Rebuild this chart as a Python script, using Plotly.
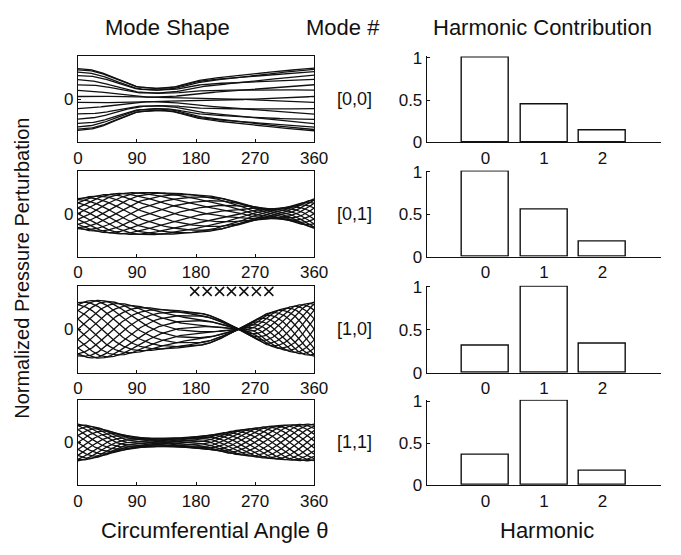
import numpy as np
import plotly.graph_objects as go

# ---------------- data ----------------
mode_labels = ["[0,0]", "[0,1]", "[1,0]", "[1,1]"]
harmonics = [0, 1, 2]
contrib_00 = [1.0, 0.45, 0.14]
contrib_01 = [1.0, 0.55, 0.18]
contrib_10 = [0.32, 1.0, 0.34]
contrib_11 = [0.36, 1.0, 0.17]

angle_ticks = [0, 90, 180, 270, 360]
harm_ticks = [0, 1, 2]
contrib_ticks = [0, 0.5, 1]
contrib_ticktext = ["0", "0.5", "1"]

# envelope of the pressure perturbation read every 15 degrees
theta_knots = list(range(0, 361, 15))
env_00 = [0.72, 0.71, 0.66, 0.58, 0.48, 0.38, 0.30, 0.27, 0.26, 0.27, 0.30, 0.37, 0.43,
          0.47, 0.50, 0.52, 0.55, 0.57, 0.60, 0.62, 0.65, 0.67, 0.69, 0.71, 0.73]
env_01 = [0.35, 0.39, 0.42, 0.45, 0.47, 0.48, 0.49, 0.49, 0.49, 0.48, 0.47, 0.46, 0.44,
          0.42, 0.39, 0.34, 0.28, 0.21, 0.16, 0.12, 0.11, 0.14, 0.20, 0.27, 0.34]
env_10 = [0.61, 0.65, 0.67, 0.65, 0.61, 0.57, 0.53, 0.50, 0.47, 0.45, 0.43, 0.41, 0.39,
          0.35, 0.27, 0.16, 0.04, -0.09, -0.21, -0.34, -0.42, -0.48, -0.54, -0.58, -0.62]
env_11 = [0.43, 0.40, 0.35, 0.28, 0.21, 0.15, 0.12, 0.10, 0.095, 0.095, 0.10, 0.12, 0.14,
          0.17, 0.20, 0.24, 0.28, 0.31, 0.34, 0.37, 0.39, 0.41, 0.42, 0.43, 0.43]

# phase of the travelling wave (turns) along the circumference
phase_theta_00 = [0, 90, 180, 270, 360]
phase_00 = [0.015, 0.025, 0.05, 0.065, 0.0775]
phase_theta_01 = [0, 45, 90, 135, 180, 225, 250, 275, 300, 330, 360]
phase_01 = [0.0, 0.15, 0.28, 0.36, 0.42, 0.47, 0.50, 0.60, 0.72, 0.86, 1.0]
phase_theta_10 = [0, 30, 60, 90, 120, 150, 180, 210, 240, 255, 270, 300, 330, 360]
phase_10 = [0.0, 0.105, 0.21, 0.31, 0.39, 0.44, 0.46, 0.47, 0.48, 0.49, 0.54, 0.69, 0.84, 1.0]
phase_theta_11 = [0, 70, 200, 360]
phase_11 = [0.0, 0.30, 0.55, 1.30]

n_snapshots = 16

# sensor markers above mode [1,0]
sensor_theta = [178, 197, 216, 234, 253, 272, 291]
sensor_level = [0.87] * 7

# ---------------- figure ----------------
W, H = 681, 555
rows_px = [(50, 139), (168, 257), (287, 377), (405, 493)]
left_px = (75, 318)
right_px = (434, 675)

envs = [env_00, env_01, env_10, env_11]
phases = [(phase_theta_00, phase_00), (phase_theta_01, phase_01),
          (phase_theta_10, phase_10), (phase_theta_11, phase_11)]
contribs = [contrib_00, contrib_01, contrib_10, contrib_11]

FONT = "Liberation Sans, Arial, Helvetica, sans-serif"
INK = "#111111"

fig = go.Figure()
theta_fine = np.arange(0, 360.5, 1.0)

layout = {}
for i in range(4):
    lx = f"x{2*i+1}" if i > 0 else "x"
    ly = f"y{2*i+1}" if i > 0 else "y"
    rx = f"x{2*i+2}"
    ry = f"y{2*i+2}"
    top, bot = rows_px[i]
    ydom = [1 - bot / H, 1 - top / H]

    amp = np.interp(theta_fine, theta_knots, envs[i])
    ph = np.interp(theta_fine, phases[i][0], phases[i][1])
    xs, ys = [], []
    for j in range(n_snapshots):
        yv = amp * np.cos(2 * np.pi * (ph - j / n_snapshots))
        xs += list(theta_fine) + [None]
        ys += list(yv) + [None]
    fig.add_trace(go.Scatter(x=xs, y=ys, mode="lines", xaxis=lx, yaxis=ly,
                             line=dict(color=INK, width=1.3), showlegend=False,
                             hoverinfo="skip"))
    if i == 2:
        fig.add_trace(go.Scatter(x=sensor_theta, y=sensor_level, mode="markers",
                                 xaxis=lx, yaxis=ly, showlegend=False,
                                 marker=dict(symbol="x-thin", size=9,
                                             line=dict(color=INK, width=1.5))))

    fig.add_trace(go.Bar(x=harmonics, y=contribs[i], width=0.8, xaxis=rx, yaxis=ry,
                         marker=dict(color="white", line=dict(color=INK, width=1.4)),
                         showlegend=False, cliponaxis=False))

    axis_common = dict(showgrid=False, zeroline=False, showline=True, linecolor=INK,
                       linewidth=1.3, tickfont=dict(family=FONT, size=17, color=INK),
                       ticks="inside", ticklen=3, tickcolor=INK)
    kx = "xaxis" if i == 0 else f"xaxis{2*i+1}"
    ky = "yaxis" if i == 0 else f"yaxis{2*i+1}"
    layout[kx] = dict(axis_common, domain=[left_px[0] / W, left_px[1] / W],
                      range=[0, 360], tickvals=angle_ticks, mirror=True,
                      anchor=ly)
    layout[ky] = dict(axis_common, domain=ydom, range=[-1, 1], tickvals=[0],
                      mirror=True, anchor=lx)
    layout[f"xaxis{2*i+2}"] = dict(axis_common, domain=[right_px[0] / W, right_px[1] / W],
                                   range=[-1, 3], tickvals=harm_ticks, ticks="",
                                   anchor=ry)
    layout[f"yaxis{2*i+2}"] = dict(axis_common, domain=ydom, range=[0, 1.015],
                                   tickvals=contrib_ticks, ticktext=contrib_ticktext,
                                   anchor=rx)

annotations = []
def txt(s, x, y, size, angle=0):
    annotations.append(dict(text=s, x=x / W, y=1 - y / H, xref="paper", yref="paper",
                            showarrow=False, textangle=angle, xanchor="center",
                            yanchor="middle",
                            font=dict(family=FONT, size=size, color=INK)))

txt("Mode Shape", 167, 20, 22)
txt("Mode #", 348, 20, 22)
txt("Harmonic Contribution", 553, 20, 22)
for i in range(4):
    top, bot = rows_px[i]
    txt(mode_labels[i], 360, (top + bot) / 2, 18)
txt("Normalized Pressure Perturbation", 18, 269, 20, angle=-90)
txt("Circumferential Angle θ", 215, 540, 22)
txt("Harmonic", 558, 540, 22)

fig.update_layout(width=W, height=H, autosize=False,
                  margin=dict(l=0, r=0, t=0, b=0),
                  paper_bgcolor="white", plot_bgcolor="white",
                  annotations=annotations, bargap=0, **layout)

fig.write_html("out.html")
